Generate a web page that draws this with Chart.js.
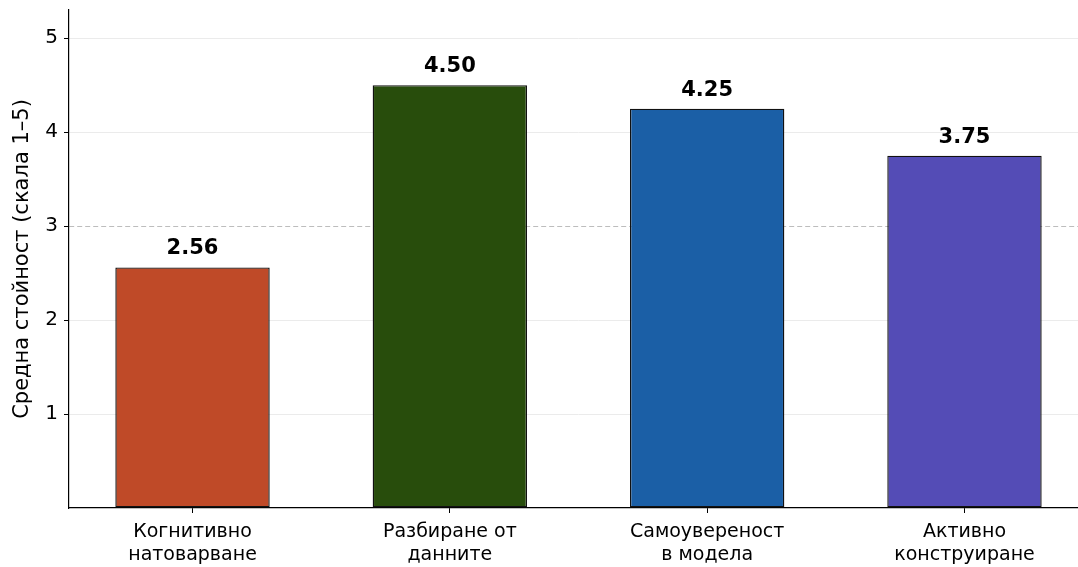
<!DOCTYPE html>
<html><head><meta charset="utf-8">
<script src="https://cdn.jsdelivr.net/npm/chart.js@4/dist/chart.umd.min.js"></script>
<style>
html,body{margin:0;padding:0;background:#fff;overflow:hidden;}
#wrap{position:relative;width:1090px;height:567px;}
</style></head>
<body><div id="wrap"><canvas id="c"></canvas></div>
<script>
const categories = [["Когнитивно","натоварване"],["Разбиране от","данните"],["Самоувереност","в модела"],["Активно","конструиране"]];
const values = [2.56, 4.50, 4.25, 3.75];
const valueLabels = ["2.56","4.50","4.25","3.75"];
const barColors = ["#BF4A28","#284D0C","#1B5FA6","#544CB6"];
const yTitle = "Средна стойност (скала 1–5)";
const referenceLevel = 3;

const FONT = "'DejaVu Sans', sans-serif";
Chart.defaults.font.family = FONT;
Chart.defaults.color = "#000";

const labelPlugin = {
  id: 'valLabels',
  afterDatasetsDraw(chart) {
    const ctx = chart.ctx;
    const meta = chart.getDatasetMeta(0);
    ctx.save();
    ctx.font = "bold 21px " + FONT;
    ctx.fillStyle = "#000";
    ctx.textAlign = "center";
    ctx.textBaseline = "alphabetic";
    meta.data.forEach((bar, i) => {
      ctx.fillText(valueLabels[i], bar.x, bar.y - 13);
    });
    ctx.restore();
  }
};

new Chart(document.getElementById('c'), {
  type: 'bar',
  data: {
    datasets: [{
      data: values.map((v, i) => ({x: i, y: v})),
      backgroundColor: barColors,
      borderColor: "#111",
      borderWidth: 1.4,
      borderSkipped: false,
      barPercentage: 0.6,
      categoryPercentage: 1.0
    }]
  },
  options: {
    responsive: true,
    maintainAspectRatio: false,
    animation: false,
    layout: {padding: {top: 10, right: 2, left: 0, bottom: 0}},
    plugins: {legend: {display: false}, tooltip: {enabled: false}},
    scales: {
      x: {
        type: 'linear',
        offset: false,
        min: -0.48, max: 3.48,
        afterFit(s) { s.height = 59; s.paddingLeft = 0; s.paddingRight = 0; },
        ticks: {
          stepSize: 1, includeBounds: false, autoSkip: false, maxRotation: 0,
          padding: 8,
          font: {size: 19, lineHeight: 1.2},
          color: "#000",
          callback: (v) => (Number.isInteger(v) && categories[v]) ? categories[v] : ''
        },
        grid: {offset: false, drawOnChartArea: false, drawTicks: true, tickLength: 5, tickColor: "#000", tickWidth: 1},
        border: {display: true, color: "#000", width: 1.2}
      },
      y: {
        min: 0, max: 5.3,
        afterFit(s) { s.width = 69; s.paddingTop = 0; s.paddingBottom = 0; },
        title: {display: true, text: yTitle, font: {size: 21}, color: "#000", padding: {top: 10, bottom: 0}},
        ticks: {
          stepSize: 1, includeBounds: false, padding: 6,
          font: {size: 20}, color: "#000",
          callback: (v) => v === 0 ? '' : String(v)
        },
        grid: {
          color: (c) => c.tick && c.tick.value === 0 ? 'rgba(0,0,0,0)' : (c.tick && c.tick.value === referenceLevel ? '#bdbdbd' : '#ebebeb'),
          lineWidth: 1,
          drawTicks: true, tickLength: 5,
          tickColor: (c) => c.tick && c.tick.value === 0 ? 'rgba(0,0,0,0)' : '#000'
        },
        border: {display: true, color: "#000", width: 1.2,
          dash: (c) => c.tick && c.tick.value === referenceLevel ? [5, 3] : []}
      }
    }
  },
  plugins: [labelPlugin]
});
</script></body></html>
